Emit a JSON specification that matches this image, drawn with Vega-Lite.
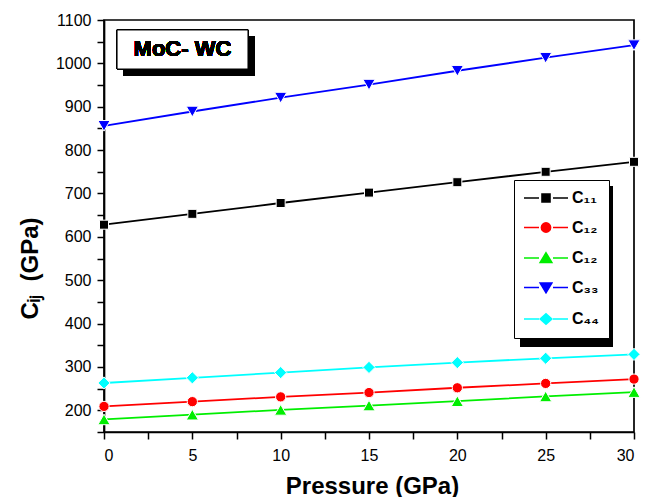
{
  "$schema": "https://vega.github.io/schema/vega-lite/v6.json",
  "autosize": {"type": "none"},
  "padding": {"left": 104, "top": 20, "right": 11, "bottom": 65},
  "width": 530,
  "height": 412,
  "background": "white",
  "config": {
    "font": "Liberation Sans",
    "view": {"stroke": "black", "strokeWidth": 1.7},
    "axis": {
      "domainColor": "black", "domainWidth": 1.7,
      "tickColor": "black", "tickWidth": 1.5, "tickSize": 7,
      "labelFont": "Liberation Sans", "labelFontSize": 16, "labelColor": "black",
      "labelOverlap": false,
      "titleFont": "Liberation Sans", "titleFontSize": 24, "titleFontWeight": "bold", "titleColor": "black",
      "grid": false
    }
  },
  "data": {
    "values": [
      {"p": 0, "series": "C11", "c": 628}, {"p": 5, "series": "C11", "c": 653}, {"p": 10, "series": "C11", "c": 678},
      {"p": 15, "series": "C11", "c": 702}, {"p": 20, "series": "C11", "c": 726}, {"p": 25, "series": "C11", "c": 750},
      {"p": 30, "series": "C11", "c": 773},
      {"p": 0, "series": "C12", "c": 209}, {"p": 5, "series": "C12", "c": 220}, {"p": 10, "series": "C12", "c": 231},
      {"p": 15, "series": "C12", "c": 241}, {"p": 20, "series": "C12", "c": 252}, {"p": 25, "series": "C12", "c": 262},
      {"p": 30, "series": "C12", "c": 272},
      {"p": 0, "series": "C12b", "c": 179}, {"p": 5, "series": "C12b", "c": 190}, {"p": 10, "series": "C12b", "c": 201},
      {"p": 15, "series": "C12b", "c": 211}, {"p": 20, "series": "C12b", "c": 221}, {"p": 25, "series": "C12b", "c": 232},
      {"p": 30, "series": "C12b", "c": 242},
      {"p": 0, "series": "C33", "c": 856}, {"p": 5, "series": "C33", "c": 889}, {"p": 10, "series": "C33", "c": 921},
      {"p": 15, "series": "C33", "c": 951}, {"p": 20, "series": "C33", "c": 983}, {"p": 25, "series": "C33", "c": 1013},
      {"p": 30, "series": "C33", "c": 1042},
      {"p": 0, "series": "C44", "c": 263}, {"p": 5, "series": "C44", "c": 275}, {"p": 10, "series": "C44", "c": 287},
      {"p": 15, "series": "C44", "c": 299}, {"p": 20, "series": "C44", "c": 310}, {"p": 25, "series": "C44", "c": 320},
      {"p": 30, "series": "C44", "c": 329}
    ]
  },
  "encoding": {
    "x": {
      "field": "p", "type": "quantitative",
      "scale": {"domain": [0, 30], "nice": false, "zero": false},
      "axis": {
        "title": "Pressure (GPa)",
        "values": [0, 2.5, 5, 7.5, 10, 12.5, 15, 17.5, 20, 22.5, 25, 27.5, 30],
        "labelExpr": "datum.value % 5 === 0 ? datum.label : ''",
        "labelPadding": 8,
        "titleX": 268, "titleY": 61, "titleBaseline": "alphabetic", "titleAlign": "center",
        "encode": {"ticks": {"update": {"y2": {"signal": "datum.value % 5 === 0 ? 7 : 4"}}}}
      }
    },
    "y": {
      "field": "c", "type": "quantitative",
      "scale": {"domain": [150, 1100], "nice": false, "zero": false},
      "axis": {
        "title": "Cᵢⱼ\u00a0 (GPa)",
        "format": "d",
        "values": [150, 200, 250, 300, 350, 400, 450, 500, 550, 600, 650, 700, 750, 800, 850, 900, 950, 1000, 1050, 1100],
        "labelExpr": "datum.value % 100 === 0 ? datum.label : ''",
        "labelPadding": 6,
        "titleAngle": -90, "titleX": -67, "titleY": 248, "titleBaseline": "alphabetic", "titleAlign": "center",
        "encode": {"ticks": {"update": {"x2": {"signal": "datum.value % 100 === 0 ? -7 : -4"}}}}
      }
    },
    "color": {
      "field": "series", "type": "nominal",
      "scale": {
        "domain": ["C11", "C12", "C12b", "C33", "C44"],
        "range": ["#000000", "#ff0000", "#00ee00", "#0000ff", "#00ffff"]
      },
      "legend": {
        "title": null,
        "orient": "none", "legendX": 410, "legendY": 160,
        "strokeColor": "black", "fillColor": "white", "padding": 10,
        "symbolSize": 64, "symbolOffset": 14, "labelOffset": 18, "rowPadding": 13.5,
        "labelFont": "Liberation Sans", "labelFontSize": 16, "labelFontWeight": "bold", "labelColor": "black",
        "labelExpr": "datum.value == 'C11' ? 'C₁₁' : datum.value == 'C33' ? 'C₃₃' : datum.value == 'C44' ? 'C₄₄' : 'C₁₂'",
        "encode": {
          "symbols": {
            "update": {
              "shape": {"signal": "datum.value == 'C11' ? 'M-5.5,0H-1.75M1.75,0H5.5M-1,-1H1V1H-1Z' : datum.value == 'C12' ? 'M-5.5,0H-1.75M1.75,0H5.5M1.15,0A1.15,1.15 0 1,1 -1.15,0A1.15,1.15 0 1,1 1.15,0Z' : datum.value == 'C12b' ? 'M-5.5,0H-1.75M1.75,0H5.5M0,-1.3L1.45,1.1L-1.45,1.1Z' : datum.value == 'C33' ? 'M-5.5,0H-1.75M1.75,0H5.5M-1.45,-1.1L1.45,-1.1L0,1.3Z' : 'M-5.5,0H-1.75M1.75,0H5.5M0,-1.3L1.45,0L0,1.3L-1.45,0Z'"},
              "fill": {"signal": "scale('color', datum.value)"},
              "stroke": {"signal": "scale('color', datum.value)"},
              "strokeWidth": {"value": 1.6},
              "opacity": {"value": 1}
            }
          }
        }
      }
    }
  },
  "layer": [
    {
      "mark": {"type": "rect", "color": "black"},
      "encoding": {
        "x": {"datum": 1.1}, "x2": {"datum": 8.52},
        "y": {"datum": 1062}, "y2": {"datum": 972},
        "color": {"value": "black"}
      }
    },
    {
      "mark": {"type": "rect", "fill": "white", "stroke": "black", "strokeWidth": 1},
      "encoding": {
        "x": {"datum": 0.74}, "x2": {"datum": 8.15},
        "y": {"datum": 1077}, "y2": {"datum": 987},
        "color": {"value": "white"}
      }
    },
    {
      "mark": {"type": "text", "text": "MoC- WC", "font": "Liberation Sans", "fontSize": 22, "fontWeight": "bold", "align": "center", "baseline": "middle"},
      "encoding": {
        "x": {"datum": 4.44}, "y": {"datum": 1032},
        "color": {"value": "black"}
      }
    },
    {
      "mark": {"type": "rect"},
      "encoding": {
        "x": {"datum": 23.55}, "x2": {"datum": 28.81},
        "y": {"datum": 717}, "y2": {"datum": 348},
        "color": {"value": "black"}
      }
    },
    {
      "mark": {"type": "line", "strokeWidth": 1.8},
      "encoding": {}
    },
    {
      "transform": [{"filter": "datum.series == 'C11'"}],
      "mark": {"type": "point", "shape": "square", "size": 81, "filled": true, "opacity": 1, "stroke": "white", "strokeWidth": 1}
    },
    {
      "transform": [{"filter": "datum.series == 'C12'"}],
      "mark": {"type": "point", "shape": "circle", "size": 105, "filled": true, "opacity": 1, "stroke": "white", "strokeWidth": 1}
    },
    {
      "transform": [{"filter": "datum.series == 'C12b'"}],
      "mark": {"type": "point", "shape": "triangle-up", "size": 150, "filled": true, "opacity": 1, "stroke": "white", "strokeWidth": 1}
    },
    {
      "transform": [{"filter": "datum.series == 'C33'"}],
      "mark": {"type": "point", "shape": "triangle-down", "size": 150, "filled": true, "opacity": 1, "stroke": "white", "strokeWidth": 1}
    },
    {
      "transform": [{"filter": "datum.series == 'C44'"}],
      "mark": {"type": "point", "shape": "diamond", "size": 150, "filled": true, "opacity": 1, "stroke": "white", "strokeWidth": 1}
    }
  ]
}
